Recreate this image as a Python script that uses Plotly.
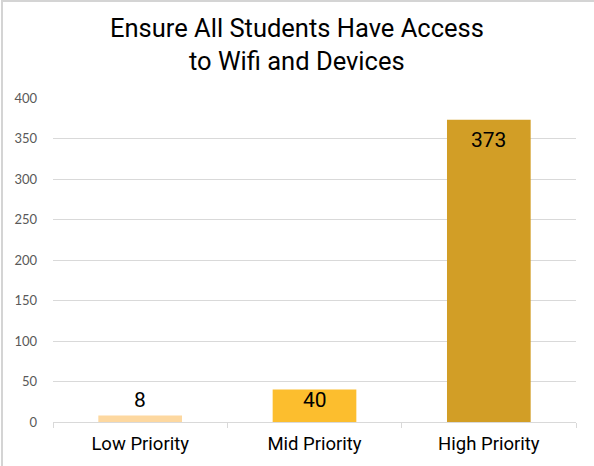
import plotly.graph_objects as go

categories = ["Low Priority", "Mid Priority", "High Priority"]
values = [8, 40, 373]
bar_colors = ["#FDD8A0", "#FCBE2E", "#D29E26"]
label_positions = ["outside", "inside", "inside"]
y_tick_values = [0, 50, 100, 150, 200, 250, 300, 350, 400]
title_lines = ["Ensure All Students Have Access", "to Wifi and Devices"]

W, H = 594, 466
ml, mr, mt, mb = 53, 18, 98, 44
pw, ph = W - ml - mr, H - mt - mb


def px_x(x):
    return (x - ml) / pw


def px_y(y):
    return (H - mb - y) / ph


fig = go.Figure()
fig.add_trace(go.Bar(
    x=categories, y=values, marker=dict(color=bar_colors, line=dict(width=0)),
    hoverinfo="skip", showlegend=False,
))

annotations = []
for c, v, pos in zip(categories, values, label_positions):
    if pos == "outside":
        annotations.append(dict(x=c, y=v, xref="x", yref="y", text=str(v), showarrow=False,
                                yanchor="bottom", yshift=1.5,
                                font=dict(family="Roboto", size=21, color="#000000")))
    else:
        annotations.append(dict(x=c, y=v, xref="x", yref="y", text=str(v), showarrow=False,
                                yanchor="top", yshift=3.5 if v < 100 else -6,
                                font=dict(family="Roboto", size=21, color="#000000")))

for line, yc in zip(title_lines, [28, 60.5]):
    annotations.append(dict(x=px_x(W / 2), y=px_y(yc), xref="paper", yref="paper", text=line,
                            showarrow=False, xanchor="center", yanchor="middle",
                            font=dict(family="Roboto", size=25.5, color="#000000")))

fig.update_layout(
    width=W, height=H,
    margin=dict(l=ml, r=mr, t=mt, b=mb, pad=0),
    paper_bgcolor="#FFFFFF", plot_bgcolor="#FFFFFF",
    bargap=0.52,
    annotations=annotations,
    xaxis=dict(
        showline=True, linecolor="#D9D9D9", linewidth=1,
        ticks="outside", tickson="boundaries", ticklen=5, tickcolor="#D9D9D9",
        showgrid=False, zeroline=False,
        tickfont=dict(family="Roboto", size=18.5, color="#000000"),
        ticklabelstandoff=5,
    ),
    yaxis=dict(
        range=[0, 400], tickvals=y_tick_values,
        showgrid=True, gridcolor="#D9D9D9", gridwidth=1,
        zeroline=False, showline=False, ticks="",
        tickfont=dict(family="Lato", size=13, color="#595959"),
        ticklabelstandoff=15,
    ),
    shapes=[
        dict(type="line", xref="paper", yref="paper", layer="above",
             x0=px_x(1), x1=px_x(W + 5), y0=px_y(1), y1=px_y(1),
             line=dict(color="#D4D4D4", width=2)),
        dict(type="line", xref="paper", yref="paper", layer="above",
             x0=px_x(2), x1=px_x(2), y0=px_y(H + 5), y1=px_y(0),
             line=dict(color="#D4D4D4", width=2)),
    ],
)

fig.write_html("out.html", config={"displayModeBar": False},
               post_script="document.body.style.margin='0';")
